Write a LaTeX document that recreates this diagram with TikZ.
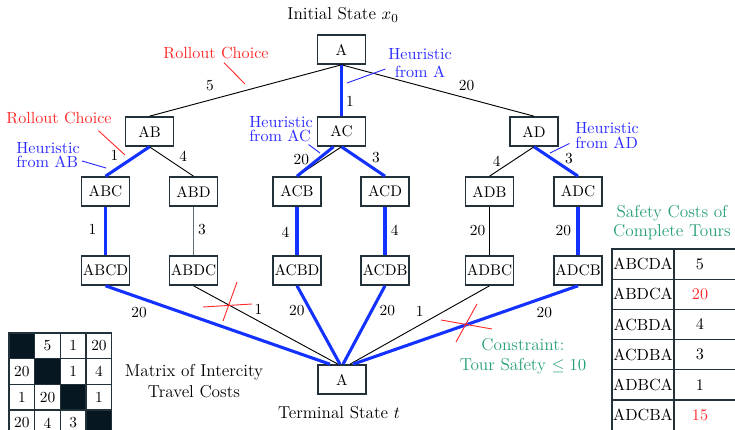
\documentclass[tikz,border=0pt]{standalone}
\usepackage{amsmath,amssymb}
\usepackage{xcolor}
\usepackage{tikz}
\usetikzlibrary{calc,positioning}
\definecolor{mainc}{HTML}{22313A}
\definecolor{heurc}{HTML}{1432FF}
\definecolor{htxt}{HTML}{2B2BFF}
\definecolor{rollc}{HTML}{FF2B2B}
\definecolor{safec}{HTML}{26A073}
\definecolor{cellc}{HTML}{061721}
\tikzset{
  st/.style={draw=mainc,line width=0.9pt,minimum width=31pt,minimum height=19pt,inner sep=0.5pt},
  ed/.style={black,line width=0.6pt},
  gl/.style={mainc!70,line width=0.9pt},
  hr/.style={heurc,line width=2pt},
  lb/.style={inner sep=1pt,text=black},
  big/.style={font=\fontsize{11.2}{13}\selectfont},
  mid/.style={font=\fontsize{10.5}{9.5}\selectfont},
  htag/.style={mid,text=htxt,align=left,inner sep=1pt},
  hl/.style={htxt,line width=0.6pt},
  rtag/.style={mid,text=rollc,inner sep=1pt},
  rl/.style={rollc,line width=0.6pt},
  stag/.style={big,text=safec,align=center,inner sep=1pt},
  cell/.style={draw=mainc,line width=0.9pt,minimum size=16.7pt,inner sep=0pt},
  tab/.style={draw=mainc,line width=0.9pt}
}

\begin{document}
\begin{tikzpicture}[x=0.65pt,y=-0.65pt]
\useasboundingbox (0,0) rectangle (735,430);
\clip (0,0) rectangle (735,430);

% search tree
\node[big] (ttl0) at (343,15) {Initial State $x_0$};
\node[st] (r) at (341.5,49.5) {A};
\foreach \n/\x in {AB/149.5,AC/341.5,AD/534}
  \node[st] (\n) at (\x,131.5) {\n};
\foreach \n/\x in {ABC/105.5,ABD/193.5,ACB/297,ACD/385,ADB/489.5,ADC/578}
  \node[st] (\n) at (\x,191.5) {\n};
\foreach \n/\x in {ABCD/105.5,ABDC/193.5,ACBD/297,ACDB/385,ADBC/489.5,ADCB/578}
  \node[st] (\n) at (\x,270.5) {\n};
\node[st] (t) at (342,379.5) {A};
\node[big] (ttlt) at (339,413) {Terminal State $t$};

\draw[ed] (r.south) -- node[lb,pos=0.685,above=4.5pt]{5} (AB.north);
\draw[ed] (r.south) -- node[lb,pos=0.65,above=3.5pt]{20} (AD.north);
\draw[hr] (r.south) -- node[lb,pos=0.72,right=1pt]{1} (AC.north);

\draw[ed] (AB.south) -- node[lb,pos=0.32,right=9pt]{4} (ABD.north);
\draw[hr] (AB.south) -- node[lb,pos=0.29,left=10pt]{1} (ABC.north);
\draw[ed] (AC.south) -- (ACB.north);
\draw[hr] ([shift={(-8,0)}]AC.south) -- node[lb,pos=0.42,left=4pt]{20} (ACB.north);
\draw[hr] (AC.south) -- node[lb,pos=0.35,right=8pt]{3} (ACD.north);
\draw[ed] (AD.south) -- node[lb,pos=0.48,left=6.5pt]{4} (ADB.north);
\draw[hr] (AD.south) -- node[lb,pos=0.39,right=7pt]{3} (ADC.north);

\draw[hr] (ABC) -- node[lb,pos=0.46,left=4pt]{1} (ABCD);
\draw[gl] (ABD) -- node[lb,pos=0.46,right=1.5pt]{3} (ABDC);
\draw[hr] (ACB) -- node[lb,pos=0.52,left=3pt]{4} (ACBD);
\draw[hr] (ACD) -- node[lb,pos=0.48,right=1.8pt]{4} (ACDB);
\draw[ed] (ADB) -- node[lb,pos=0.5,left=1.5pt]{20} (ADBC);
\draw[hr] (ADC) -- node[lb,pos=0.5,left=2.5pt]{20} (ADCB);

\draw[ed] (ABDC.south) -- node[lb,pos=0.45,above=3pt]{1} ([shift={(-4,0)}]t.north);
\draw[ed] (ADBC.south) -- node[lb,pos=0.5,above=4.5pt]{1} ([shift={(8,0)}]t.north);
\draw[hr] (ABCD.south) -- node[lb,pos=0.15,below=4pt]{20} ([shift={(-12,0)}]t.north);
\draw[hr] (ACBD.south) -- node[lb,pos=0.32,left=2pt]{20} ([shift={(-2,0)}]t.north);
\draw[hr] (ACDB.south) -- node[lb,pos=0.31,right=3pt]{20} ([shift={(1,0)}]t.north);
\draw[hr] (ADCB.south) -- node[lb,pos=0.15,below=4pt]{20} ([shift={(11,0)}]t.north);

% struck out tours
\draw[rl] (203,307) -- (252,304) (237,282) -- (223,321);
\draw[rl] (441,320) -- (492,329) (477,304) -- (456,342);

% rollout and heuristic tags
\node[rtag] (rc1) at (216,53) {Rollout Choice};
\node[rtag] (rc2) at (59,118) {Rollout Choice};
\coordinate (rp1) at (245,84);
\coordinate (rp2) at (125,155);
\draw[rl] ([shift={(8,2)}]rc1.south) -- (rp1);
\draw[rl] ([shift={(-15,5)}]rc2.south east) -- (rp2);

\node[htag,align=center] (hA) at (420,63) {Heuristic\\[1.8pt]from A};
\node[htag] (hAB) at (48,155) {Heuristic\\from AB};
\node[htag] (hAC) at (281,129) {Heuristic\\[-0.4pt]from AC};
\node[htag] (hAD) at (607,135.5) {Heuristic\\[0.7pt]from AD};
\coordinate (hpA) at (347,83);
\coordinate (hpAB) at (106,168);
\coordinate (hpAC) at (320,153);
\coordinate (hpAD) at (550,153);
\draw[hl] ([shift={(-1,6)}]hA.west) -- (hpA);
\draw[hl] ([shift={(0.5,6)}]hAB.east) -- (hpAB);
\draw[hl] ([shift={(-6,1)}]hAC.south east) -- (hpAC);
\draw[hl] ([shift={(-4,8)}]hAD.west) -- (hpAD);

\node[stag] (cons) at (523,356) {Constraint:\\Tour Safety $\leq 10$};

% cost matrix
\foreach \i in {1,...,4}
  \node[cell,fill=cellc] (m\i\i) at ({9+25.7*(\i-0.5)},{333+25.7*(\i-0.5)}) {};
\foreach \i/\j/\v in {1/2/5,1/3/1,1/4/20,2/1/20,2/3/1,2/4/4,3/1/1,3/2/20,3/4/1,4/1/20,4/2/4,4/3/3}
  \node[cell] (m\i\j) at ({9+25.7*(\j-0.5)},{333+25.7*(\i-0.5)}) {\v};
\node[big,align=center] (mtx) at (194,381.5) {Matrix of Intercity\\[0.7pt]Travel Costs};

% safety table
\node[stag] (sct) at (672,222.5) {Safety Costs of\\[-0.6pt]Complete Tours};
\foreach \tr/\v/\c [count=\k] in {ABCDA/5/black,ABDCA/20/rollc,ACBDA/4/black,ACDBA/3/black,ADBCA/1/black,ADCBA/15/rollc}{
  \draw[tab] (612,{249+30.2*(\k-1)}) rectangle (674,{249+30.2*\k});
  \draw[tab] (674,{249+30.2*(\k-1)}) rectangle (770,{249+30.2*\k});
  \node[font=\fontsize{10.5}{12}\selectfont] (tn\k) at (643,{249+30.2*(\k-0.5)}) {\tr};
  \node[text=\c,font=\fontsize{10.5}{12}\selectfont] (tv\k) at (700,{249+30.2*(\k-0.5)}) {\v};
}
\end{tikzpicture}
\end{document}
